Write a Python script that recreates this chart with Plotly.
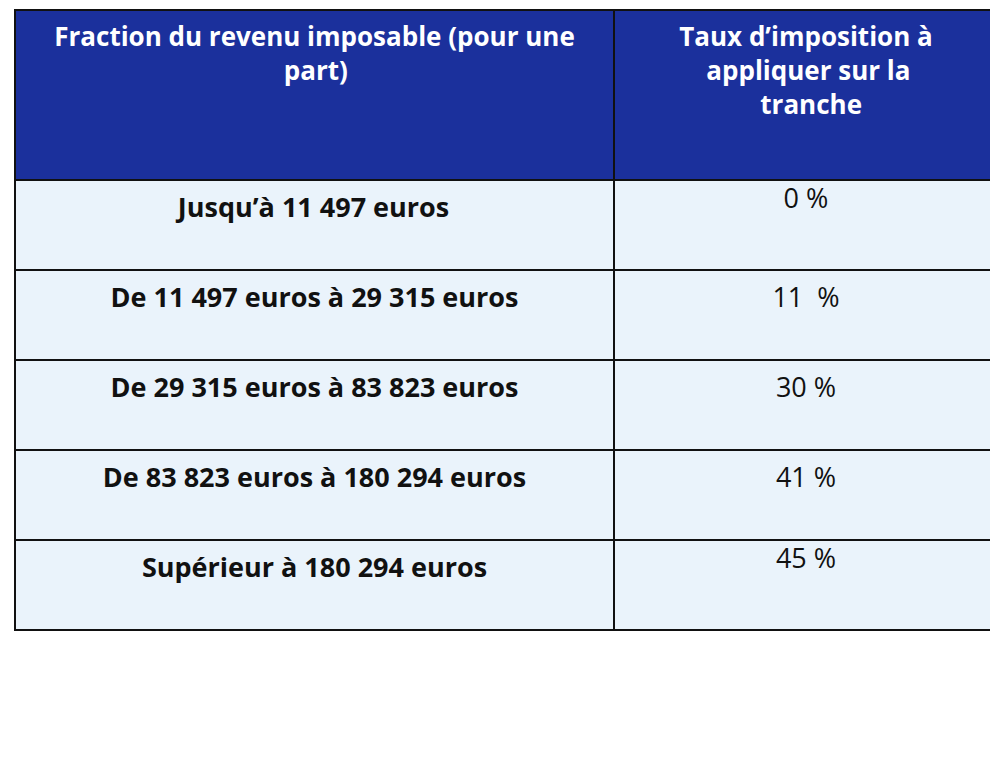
import plotly.graph_objects as go

NB = "\u00a0"
headers = ["<br>Fraction du revenu imposable (pour une<br>" + NB * 34 + "part)",
           "<br>Taux d’imposition à<br>" + NB * 4 + "appliquer sur la<br>" + NB * 12 + "tranche"]
tranches = ["Jusqu’à 11 497 euros",
            "<br>De 11 497 euros à 29 315 euros<br>",
            "<br>De 29 315 euros à 83 823 euros<br>",
            "<br>De 83 823 euros à 180 294 euros<br>",
            "Supérieur à 180 294 euros"]
taux = ["0 %", "<br>11  %<br>", "<br>30 %<br>", "<br>41 %<br>", "45 %"]

fig = go.Figure(go.Table(
    columnwidth=[599, 384],
    header=dict(
        values=[f"<b>{h}</b>" for h in headers],
        fill_color="#1b309c",
        line=dict(color="#111111", width=2),
        font=dict(family="Open Sans", size=26, color="white"),
        align="center",
        height=170,
    ),
    cells=dict(
        values=[[f"<b>{t}</b>" for t in tranches], taux],
        fill_color="#eaf3fb",
        line=dict(color="#111111", width=2),
        font=dict(family="Open Sans", size=27, color="#111111"),
        align="center",
        height=90,
    ),
))

fig.update_layout(
    width=998, height=759,
    margin=dict(l=7, r=8, t=2, b=0),
    paper_bgcolor="white",
)

fig.write_html("out.html")
